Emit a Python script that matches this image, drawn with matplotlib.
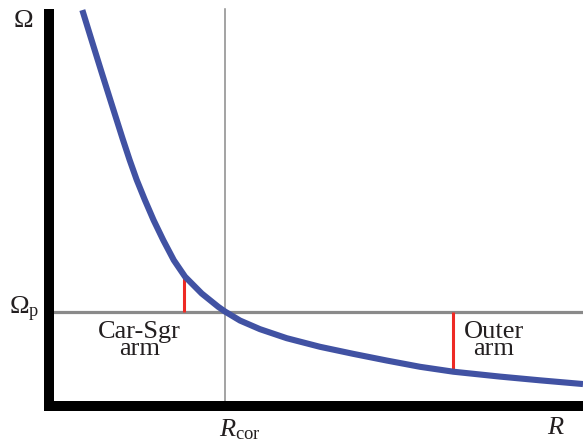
import matplotlib
matplotlib.use("Agg")
import matplotlib.pyplot as plt

# --- Datos (unidades arbitrarias) ---
R = [0.624, 0.787, 0.981, 1.178, 1.376, 1.509, 1.642, 1.794, 1.959, 2.140,
     2.337, 2.547, 2.860, 3.170, 3.296, 3.577, 3.951, 4.451, 5.075, 5.699,
     6.324, 6.948, 7.571, 8.446, 9.195, 10.0]
omega = [10.10, 9.38, 8.53, 7.68, 6.83, 6.28, 5.77, 5.26, 4.74, 4.23,
         3.72, 3.30, 2.87, 2.53, 2.41, 2.18, 1.96, 1.73, 1.51, 1.33,
         1.16, 1.00, 0.875, 0.75, 0.655, 0.56]

R_cor = 3.30
omega_p = 2.41

arm_names = ["Car-Sgr\narm", "Outer\narm"]
arm_R = [2.53, 7.57]
arm_omega = [3.30, 0.875]

plt.rcParams["font.family"] = ["Liberation Serif", "DejaVu Serif"]
plt.rcParams["mathtext.fontset"] = "custom"
plt.rcParams["mathtext.rm"] = "Liberation Serif"
plt.rcParams["mathtext.it"] = "Liberation Serif:italic"

txt_color = "#231f20"
fs = 19

fig = plt.figure(figsize=(5.83, 4.43), dpi=100)
W, H = 583, 443
# ejes en píxeles: x 49..583, y 14..406 (desde arriba)
ax = fig.add_axes([49 / W, (H - 406) / H, 534 / W, 392 / H])
ax.set_xlim(0, 10)
ax.set_ylim(0, 10)

for side in ["top", "right"]:
    ax.spines[side].set_visible(False)
for side in ["left", "bottom"]:
    ax.spines[side].set_linewidth(7.2)
    ax.spines[side].set_color("black")
    ax.spines[side].set_zorder(5)
ax.set_xticks([])
ax.set_yticks([])

# líneas guía
ax.axhline(omega_p, color="#8a8a8a", lw=2.3, zorder=2)
ax.plot([R_cor, R_cor], [0, 10.13], color="#8a8a8a", lw=1.1, zorder=2, clip_on=False)

# brazos
for name, r, om in zip(arm_names, arm_R, arm_omega):
    ax.plot([r, r], [omega_p, om], color="#ee2a24", lw=2.2, zorder=3,
            solid_capstyle="butt")

# curva de rotación
ax.plot(R, omega, color="#4152a3", lw=4.4, zorder=4, clip_on=False,
        solid_joinstyle="round", solid_capstyle="butt")

# textos
ax.text(1.70, 2.18, arm_names[0], ha="center", va="top", fontsize=fs,
        color=txt_color, linespacing=0.74)
ax.text(8.33, 2.18, arm_names[1], ha="center", va="top", fontsize=fs,
        color=txt_color, linespacing=0.74)

ax.text(-0.487, 9.82, "Ω", ha="center", va="center", fontsize=fs,
        color=txt_color, clip_on=False)
ax.text(-0.47, 2.47, r"Ω$_{\mathrm{p}}$", ha="center", va="center", fontsize=fs,
        color=txt_color, clip_on=False)
ax.text(3.58, -0.61, r"$R_{\mathrm{cor}}$", ha="center", va="center", fontsize=fs,
        color=txt_color, clip_on=False)
ax.text(9.49, -0.56, r"$R$", ha="center", va="center", fontsize=fs,
        color=txt_color, clip_on=False)

fig.savefig("out.png", dpi=100)
